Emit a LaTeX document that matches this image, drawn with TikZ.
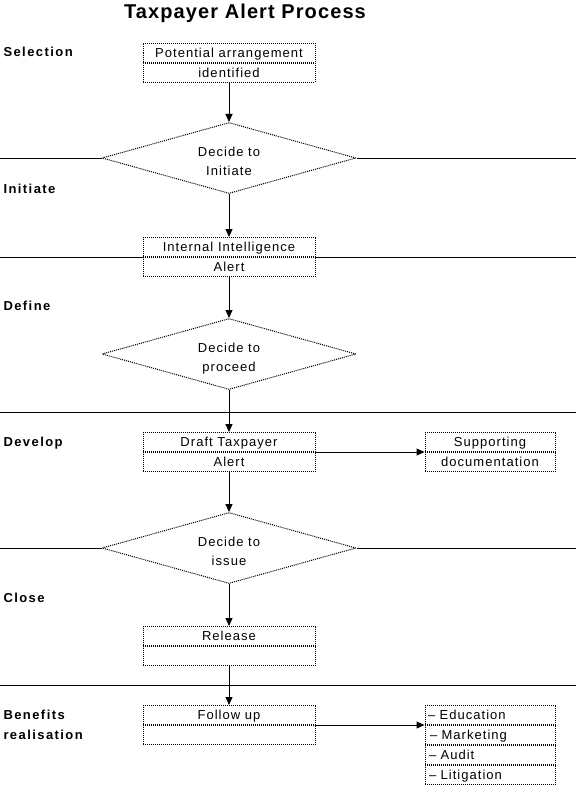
\documentclass[tikz,border=0pt]{standalone}
\usepackage{fontspec}
\setmainfont{Liberation Sans}[LetterSpace=8]
\newfontfamily\titlefont{Liberation Sans}[LetterSpace=5.5]
\newfontfamily\stagefont{Liberation Sans}[LetterSpace=11]
\usetikzlibrary{arrows.meta,positioning,shapes.geometric}

\begin{document}
\begin{tikzpicture}[x=1pt, y=-1pt, line width=1pt,
  dots/.style={dash pattern=on 1pt off 1pt},
  cell/.style={draw, dots, minimum width=172pt, minimum height=19pt, inner sep=0pt,
    text height=9.3pt, text depth=0pt, font=\fontsize{13}{15}\selectfont},
  sidecell/.style={cell, minimum width=130pt},
  listcell/.style={sidecell, text width=124pt, align=left},
  decide/.style={diamond, draw, dots, aspect=3.5, minimum width=254pt, minimum height=71pt,
    inner sep=0pt, align=center, text height=34.6pt, text depth=0pt,
    font=\fontsize{13}{19.3}\selectfont},
  stage/.style={anchor=west, align=left, inner sep=0pt, text height=9.3pt, text depth=0pt,
    font=\stagefont\bfseries\fontsize{13}{20}\selectfont},
  flow/.style={-{Triangle[length=8pt,width=7pt]}}]
  \useasboundingbox (0,0) rectangle (582,789);

  % Title
  \node[font=\titlefont\bfseries\fontsize{20}{22}\selectfont] (title) at (245,13) {Taxpayer Alert Process};

  % Stages
  \foreach \y/\lab in {52.3/Selection, 188.5/Initiate, 305.5/Define, 441.5/Develop, 597.5/Close,
      734.7/{Benefits\\realisation}} {
    \node[stage] at (3,\y) {\lab};
  }

  % Main flow
  \node[cell] (b1a) at (229,53) {Potential arrangement};
  \node[cell, below=0pt of b1a] (b1b) {identified};
  \node[decide] (d1) at (229,158) {Decide to\\Initiate};
  \node[cell] (b2a) at (229,247) {Internal Intelligence};
  \node[cell, below=0pt of b2a] (b2b) {Alert};
  \node[decide] (d2) at (229,354) {Decide to\\proceed};
  \node[cell] (b3a) at (229,442) {Draft Taxpayer};
  \node[cell, below=0pt of b3a] (b3b) {Alert};
  \node[decide] (d3) at (229,548) {Decide to\\issue};
  \node[cell] (b4a) at (229,636) {Release};
  \node[cell, below=0pt of b4a] (b4b) {};
  \node[cell] (b5a) at (229,715) {Follow up};
  \node[cell, below=0pt of b5a] (b5b) {};

  % Side boxes
  \node[sidecell] (s1a) at (490,442) {Supporting};
  \node[sidecell, below=0pt of s1a] (s1b) {documentation};
  \node[listcell] (l1) at (490,715) {-- Education};
  \node[listcell, below=0pt of l1] (l2) {\hspace*{2pt}-- Marketing};
  \node[listcell, below=0pt of l2] (l3) {\hspace*{1pt}-- Audit};
  \node[listcell, below=0pt of l3] (l4) {\hspace*{1pt}-- Litigation};

  % Stage separators
  \draw (0,158) -- (d1.west);
  \draw (d1.east) -- (576,158);
  \draw (0,257) -- (b2a.south west);
  \draw (b2a.south east) -- (576,257);
  \draw (0,412) -- (576,412);
  \draw (0,548) -- (d3.west);
  \draw (d3.east) -- (576,548);
  \draw (0,685) -- (576,685);

  % Arrows
  \draw[flow] (b1b) -- (d1);
  \draw[flow] (d1) -- (b2a);
  \draw[flow] (b2b) -- (d2);
  \draw[flow] (d2) -- (b3a);
  \draw[flow] (b3b) -- (d3);
  \draw[flow] (d3) -- (b4a);
  \draw[flow] (b4b) -- (b5a);
  \draw[flow] (b3a.south east) -- (s1a.south west);
  \draw[flow] (b5a.south east) -- (l1.south west);
\end{tikzpicture}
\end{document}
